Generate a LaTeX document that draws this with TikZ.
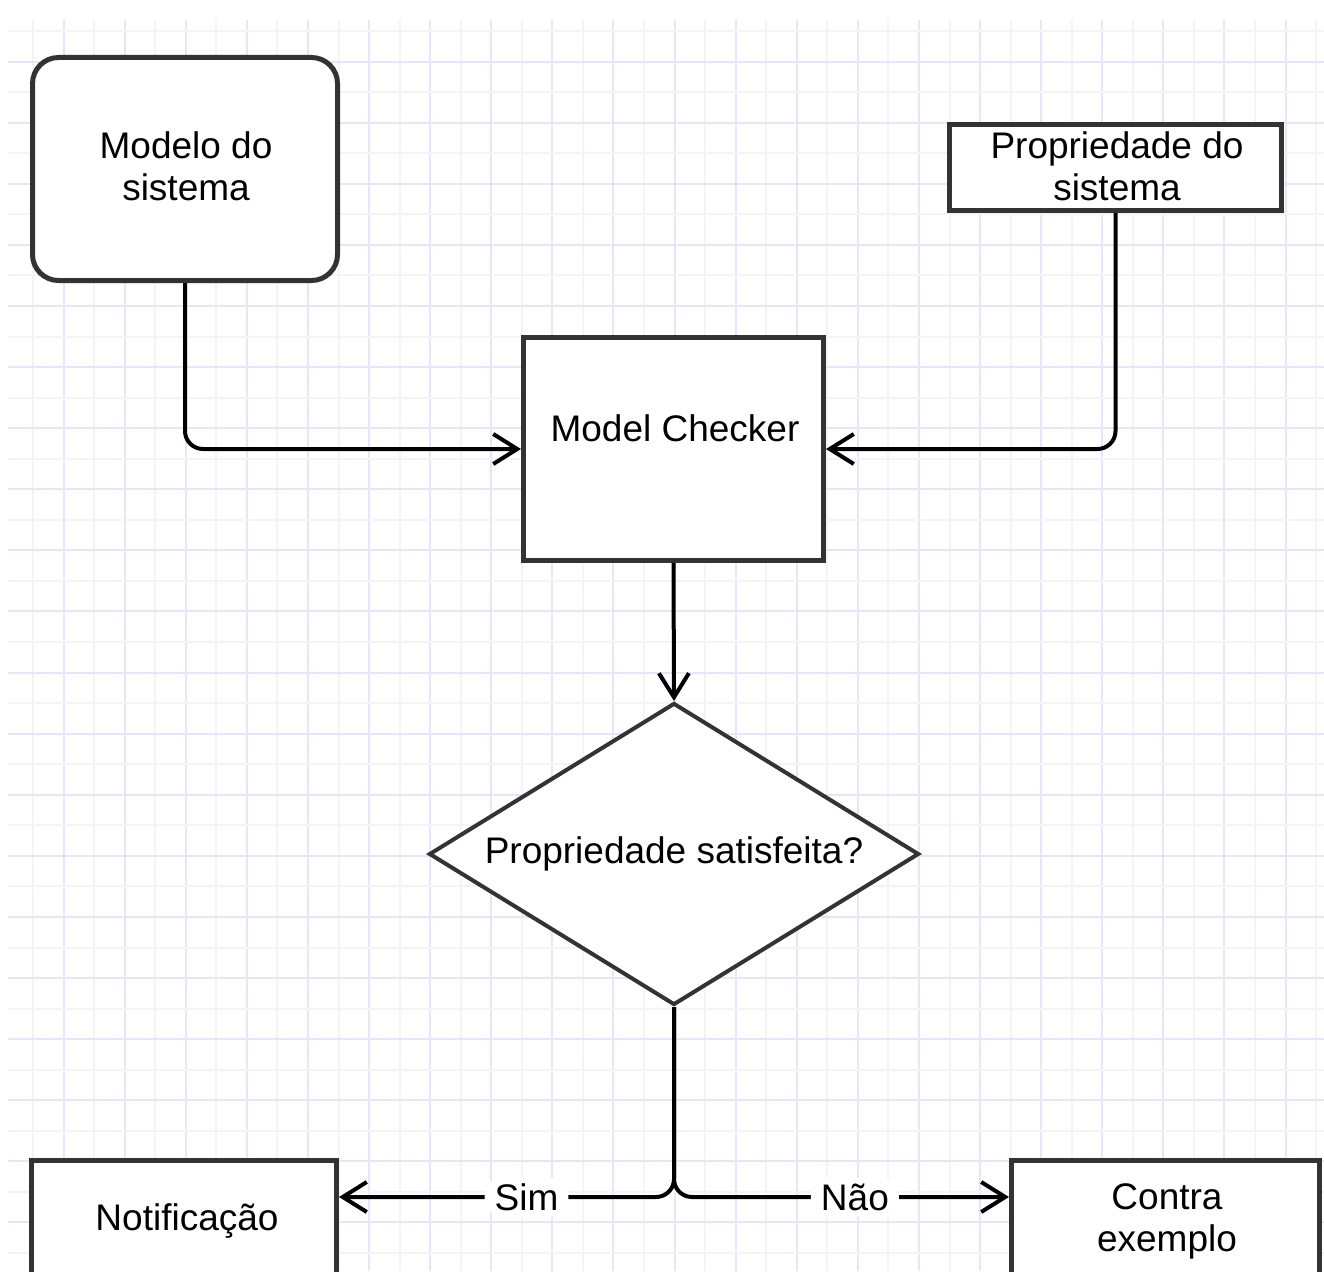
\documentclass[tikz,border=0pt]{standalone}
\usepackage{fontspec}
\setmainfont{Liberation Sans}
\usetikzlibrary{arrows.meta,shapes.geometric}
\definecolor{gridlight}{HTML}{F3F3FD}
\definecolor{griddark}{HTML}{E6E6FA}
\definecolor{edgegray}{HTML}{333333}
\tikzset{
  box/.style={draw=edgegray, line width=5pt, fill=white, inner sep=0pt},
  txt/.style={font=\fontsize{37}{42}\selectfont, align=center, inner sep=0pt, text=black},
  conn/.style={draw=black, line width=4pt, rounded corners=18pt,
    -{Straight Barb[length=24pt, width=30pt, line width=4pt]}},
  lbl/.style={font=\fontsize{37}{42}\selectfont, fill=white, inner xsep=10pt, inner ysep=6pt, text=black}
}
\begin{document}
\begin{tikzpicture}[x=1pt, y=-1pt]
\useasboundingbox (0,0) rectangle (1324,1271);
\begin{scope}
\clip (0,0) rectangle (1324,1271);
\fill[white] (0,0) rectangle (1324,1271);
% grid
\foreach \i in {0,...,42} {
  \pgfmathsetmacro\gx{33+30.55*\i}
  \pgfmathtruncatemacro\odd{mod(\i,2)}
  \ifnum\odd=1 \def\gc{griddark}\else\def\gc{gridlight}\fi
  \draw[\gc, line width=2pt] (\gx,20) -- (\gx,1271);
}
\foreach \i in {0,...,41} {
  \pgfmathsetmacro\gy{31+30.55*\i}
  \pgfmathtruncatemacro\odd{mod(\i,2)}
  \ifnum\odd=1 \def\gc{griddark}\else\def\gc{gridlight}\fi
  \draw[\gc, line width=2pt] (8,\gy) -- (1324,\gy);
}
% nodes
\node[box, rounded corners=26pt, minimum width=305pt, minimum height=223pt] (modelo) at (185,169) {};
\node[txt] (modelot) at (186,166) {Modelo do\\sistema};
\node[box, minimum width=332pt, minimum height=86pt] (prop) at (1115.5,167.5) {};
\node[txt] (propt) at (1117,166) {Propriedade do\\sistema};
\node[box, minimum width=300pt, minimum height=223pt] (mc) at (673.5,449) {};
\node[txt] (mct) at (675,428) {Model Checker};
\node[box, line width=4pt, shape=diamond, minimum width=490pt, minimum height=302pt] (dia) at (674,854) {};
\node[txt] (diat) at (674,854) {Propriedade satisfeita?};
\node[box, minimum width=305pt, minimum height=180pt] (notif) at (184,1250.5) {};
\node[txt] (notift) at (187,1221) {Notificação};
\node[box, minimum width=308pt, minimum height=180pt] (contra) at (1165.5,1250.5) {};
\node[txt] (contrat) at (1167,1221) {Contra\\exemplo};
\coordinate (split) at (674,1197);
% connectors
\draw[conn] (modelo.south) |- (mc.west);
\draw[conn] (prop.south) |- (mc.east);
\draw[conn, rounded corners=0pt] (mc.south) -- (dia.north);
\draw[conn] (dia.south) |- node[lbl, pos=0.72] {Sim} (notif.east |- split);
\draw[conn] (dia.south) |- node[lbl, pos=0.77] {Não} (contra.west |- split);
\end{scope}
\end{tikzpicture}
\end{document}
